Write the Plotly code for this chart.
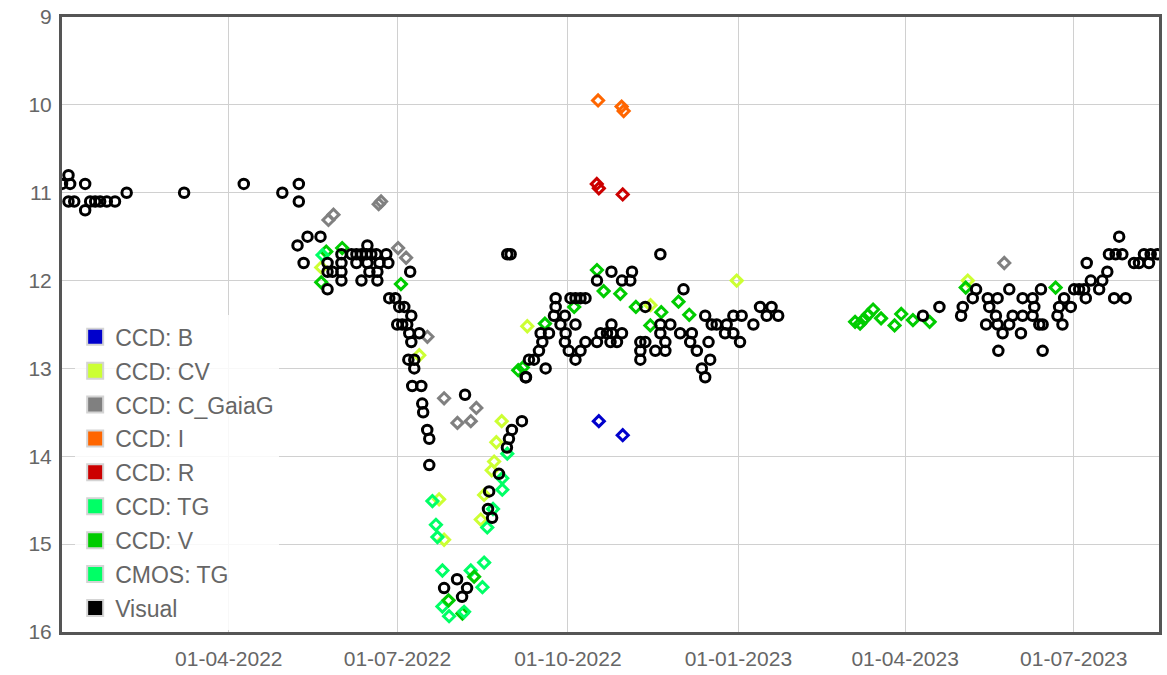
import numpy as np
import pandas as pd
import plotly.graph_objects as go

# Times are JD - 2459000, magnitudes as plotted
JD_OFFSET = 2459000

visual_jd = [580.5, 584.0, 584.9, 593.0, 584.0, 587.1, 593.0, 595.7, 598.4, 601.1, 604.7, 609.1, 615.4, 646.4, 678.6, 699.4, 708.3, 708.3,
             707.6, 713.0, 720.0, 710.9, 723.8, 723.8, 723.8, 726.5, 731.3, 731.3, 731.3, 731.3, 736.7, 739.4, 742.1, 744.8, 747.4, 750.1,
             745.3, 739.4, 745.3, 742.1, 746.4, 750.7, 750.7, 751.8, 755.5, 756.6, 768.4,
             757.1, 760.4, 762.5, 765.2, 769.0, 761.4, 764.1, 766.8, 767.9, 773.3, 769.0, 767.4, 770.6, 770.6, 769.5, 774.4, 774.9, 775.4,
             777.6, 778.7, 778.7,
             798.0, 793.7, 786.7, 799.1, 796.4, 810.4, 812.6, 811.0, 816.3, 820.6, 821.7, 823.3, 828.7, 830.9,
             820.8, 822.6, 903.4, 830.7, 832.5, 835.2, 841.5, 837.9, 839.7, 838.8, 843.3, 846.9, 846.9, 846.0, 851.9, 849.5, 857.6, 852.3,
             851.9, 854.0, 857.6, 860.3, 863.0, 854.9, 857.6, 860.3, 863.0, 869.2, 871.1, 877.0, 874.6, 877.3, 876.5, 880.0, 882.7, 869.2,
             877.0, 882.7, 888.1, 887.2, 895.3, 892.6, 895.3, 892.6, 892.6, 900.7, 903.4, 903.4, 906.1, 908.8, 906.1, 914.1, 915.9, 920.4,
             919.5, 923.1, 927.6, 925.8, 927.6, 930.3, 929.4, 933.8, 931.1, 939.2, 938.3, 946.4, 942.8, 942.8, 947.3, 953.6, 957.2, 963.4,
             960.8, 967.0,
             1045.1, 1054.0, 1065.7, 1066.6, 1073.8, 1072.0, 1080.1, 1085.4, 1080.9, 1079.2, 1084.5, 1085.4, 1088.1, 1091.7, 1093.5, 1091.7,
             1098.9, 1098.9, 1098.0, 1104.3, 1105.2, 1104.3, 1108.8, 1109.7, 1107.9, 1085.8, 1109.7, 1117.7, 1118.6, 1121.3, 1120.4, 1124.9,
             1126.7, 1129.4, 1132.1, 1133.0, 1135.7, 1140.2, 1141.9, 1144.6, 1133.5, 1148.3, 1154.5, 1145.5, 1149.1, 1152.7, 1151.0, 1159.0,
             1161.7, 1164.4, 1167.1, 1168.0, 1171.6]
visual_mag = [10.9, 10.8, 10.9, 10.9, 11.1, 11.1, 11.2, 11.1, 11.1, 11.1, 11.1, 11.1, 11.0, 11.0, 10.9, 11.0, 10.9, 11.1,
              11.6, 11.5, 11.5, 11.8, 11.8, 11.9, 12.1, 11.9, 11.7, 11.8, 11.9, 12.0, 11.7, 11.7, 11.7, 11.7, 11.7, 11.7,
              11.6, 11.8, 11.8, 12.0, 11.9, 11.9, 12.0, 11.8, 11.7, 11.8, 11.9,
              12.2, 12.2, 12.3, 12.3, 12.4, 12.5, 12.5, 12.5, 12.6, 12.6, 12.7, 12.9, 12.9, 13.0, 13.2, 13.2, 13.4, 13.5,
              13.7, 13.8, 14.1,
              13.3, 15.4, 15.5, 15.5, 15.6, 14.6, 14.7, 14.4, 14.2, 13.9, 13.8, 13.7, 13.6, 13.1,
              11.7, 11.7, 11.7, 13.1, 12.9, 12.9, 13.0, 12.8, 12.7, 12.6, 12.6, 12.2, 12.3, 12.4, 12.4, 12.5, 12.5, 12.6,
              12.7, 12.8, 12.9, 12.8, 12.7, 12.2, 12.2, 12.2, 12.2, 12.7, 12.6, 12.5, 12.6, 12.6, 12.7, 12.7, 12.6, 12.0,
              11.9, 12.0, 11.9, 12.0, 12.3, 12.7, 12.7, 12.8, 12.9, 12.8, 12.5, 12.6, 12.7, 12.5, 12.8, 12.6, 12.1, 12.6,
              12.7, 12.8, 12.4, 13.0, 13.1, 12.9, 12.7, 12.5, 12.5, 12.5, 12.6, 12.7, 12.6, 12.4, 12.4, 12.5, 12.3, 12.3,
              12.4, 12.4,
              12.4, 12.3, 12.4, 12.3, 12.1, 12.2, 12.2, 12.2, 12.3, 12.5, 12.4, 12.5, 12.6, 12.1, 12.4, 12.5,
              12.2, 12.4, 12.6, 12.2, 12.3, 12.4, 12.1, 12.5, 12.5, 12.8, 12.8, 12.4, 12.3, 12.2, 12.5, 12.3,
              12.1, 12.1, 12.1, 12.2, 12.0, 12.1, 12.0, 11.9, 11.8, 12.2, 12.2, 11.7, 11.7, 11.7, 11.5, 11.8,
              11.8, 11.7, 11.8, 11.7, 11.7]

ccd_b_jd = [870.2, 883.1]
ccd_b_mag = [13.60, 13.76]

ccd_cv_jd = [720.4, 773.3, 784.0, 786.7, 806.5, 808.3, 812.4, 813.7, 814.9, 817.8, 831.6, 898.1, 944.6, 1069.3]
ccd_cv_mag = [11.85, 12.85, 14.49, 14.95, 14.72, 14.44, 14.16, 14.06, 13.84, 13.60, 12.52, 12.28, 12.00, 12.00]

ccd_gaia_jd = [724.3, 727.0, 751.4, 752.7, 761.9, 766.2, 777.7, 786.7, 793.9, 801.1, 804.1, 1089.0]
ccd_gaia_mag = [11.31, 11.25, 11.13, 11.10, 11.63, 11.74, 12.64, 13.34, 13.62, 13.60, 13.45, 11.80]

ccd_i_jd = [869.8, 882.5, 883.6]
ccd_i_mag = [9.95, 10.02, 10.07]

ccd_r_jd = [869.1, 870.2, 883.1]
ccd_r_mag = [10.90, 10.95, 11.02]

ccd_tg_jd = [780.4, 782.3, 783.1, 785.8, 789.4, 801.1, 807.4, 810.0, 813.1, 818.1, 818.1, 820.8]
ccd_tg_mag = [14.51, 14.78, 14.92, 15.71, 15.82, 15.30, 15.49, 14.81, 14.60, 14.25, 14.38, 13.97]

ccd_v_jd = [723.1, 731.7, 720.4, 763.4, 826.7, 829.2, 841.1, 856.9, 869.2, 872.8, 881.8, 890.2, 898.0, 903.9, 913.2, 919.0,
            789.1, 796.6, 802.9, 1008.5, 1011.2, 1013.3, 1015.5, 1018.2, 1022.5, 1029.8, 1033.4, 1039.7, 1048.7, 1068.2, 1116.7]
ccd_v_mag = [11.67, 11.63, 12.02, 12.04, 13.02, 12.99, 12.49, 12.30, 11.88, 12.12, 12.15, 12.30, 12.51, 12.36, 12.24, 12.39,
             15.64, 15.79, 15.37, 12.47, 12.49, 12.44, 12.39, 12.33, 12.43, 12.51, 12.38, 12.45, 12.47, 12.08, 12.08]

cmos_tg_jd = [721.1, 785.8, 797.5, 808.3]
cmos_tg_mag = [11.71, 15.30, 15.77, 15.21]

tick_dates = ["2022-04-01", "2022-07-01", "2022-10-01", "2023-01-01", "2023-04-01", "2023-07-01"]
mag_ticks = [9, 10, 11, 12, 13, 14, 15, 16]


def to_dt(jd):
    return pd.to_datetime(np.asarray(jd, float) + JD_OFFSET - 2440587.5, unit="D")


series = [
    ("CCD: B", ccd_b_jd, ccd_b_mag, "#0000cc", "diamond-open"),
    ("CCD: CV", ccd_cv_jd, ccd_cv_mag, "#ccff33", "diamond-open"),
    ("CCD: C_GaiaG", ccd_gaia_jd, ccd_gaia_mag, "#808080", "diamond-open"),
    ("CCD: I", ccd_i_jd, ccd_i_mag, "#ff6600", "diamond-open"),
    ("CCD: R", ccd_r_jd, ccd_r_mag, "#cc0000", "diamond-open"),
    ("CCD: TG", ccd_tg_jd, ccd_tg_mag, "#00ff66", "diamond-open"),
    ("CCD: V", ccd_v_jd, ccd_v_mag, "#00cc00", "diamond-open"),
    ("CMOS: TG", cmos_tg_jd, cmos_tg_mag, "#00ff66", "diamond-open"),
    ("Visual", visual_jd, visual_mag, "#000000", "circle-open"),
]

fig = go.Figure()
for name, jd, mag, color, sym in series:
    is_circle = sym.startswith("circle")
    fig.add_trace(go.Scatter(
        x=to_dt(jd), y=mag, mode="markers", name=name, legendgroup=name,
        showlegend=False,
        marker=dict(symbol=sym, color=color, size=9.5 if is_circle else 8.5,
                    line=dict(width=3, color=color)),
    ))
for name, jd, mag, color, sym in series:
    fig.add_trace(go.Scatter(
        x=[None], y=[None], mode="markers", name=name, legendgroup=name,
        showlegend=True,
        marker=dict(symbol="square", color=color, size=16,
                    line=dict(width=2, color="#d4d4d4")),
    ))

font_family = "Liberation Sans, Arial, sans-serif"
fig.update_layout(
    width=1167, height=675,
    margin=dict(l=62, r=5, t=16, b=37),
    paper_bgcolor="white", plot_bgcolor="white",
    font=dict(family=font_family, color="#666666", size=20),
    showlegend=True,
    legend=dict(x=0.012, y=0.515, xanchor="left", yanchor="top",
                bgcolor="rgba(255,255,255,0.85)", borderwidth=0,
                font=dict(size=23, color="#666666", family=font_family),
                traceorder="grouped", tracegroupgap=1, itemsizing="trace"),
)
fig.update_xaxes(
    type="date", range=["2022-01-01", "2023-08-16"],
    tickvals=tick_dates, tickformat="%d-%m-%Y",
    showgrid=True, gridcolor="#d0d0d0", gridwidth=1,
    showline=True, mirror=True, linecolor="#555555", linewidth=3,
    ticks="outside", ticklen=6, tickcolor="rgba(0,0,0,0)",
    tickfont=dict(size=21, color="#666666"), zeroline=False,
)
fig.update_yaxes(
    range=[16, 9], tickvals=mag_ticks,
    showgrid=True, gridcolor="#d0d0d0", gridwidth=1,
    showline=True, mirror=True, linecolor="#555555", linewidth=3,
    ticks="outside", ticklen=3, tickcolor="rgba(0,0,0,0)",
    tickfont=dict(size=21, color="#666666"), zeroline=False,
)

fig.write_html("out.html")
